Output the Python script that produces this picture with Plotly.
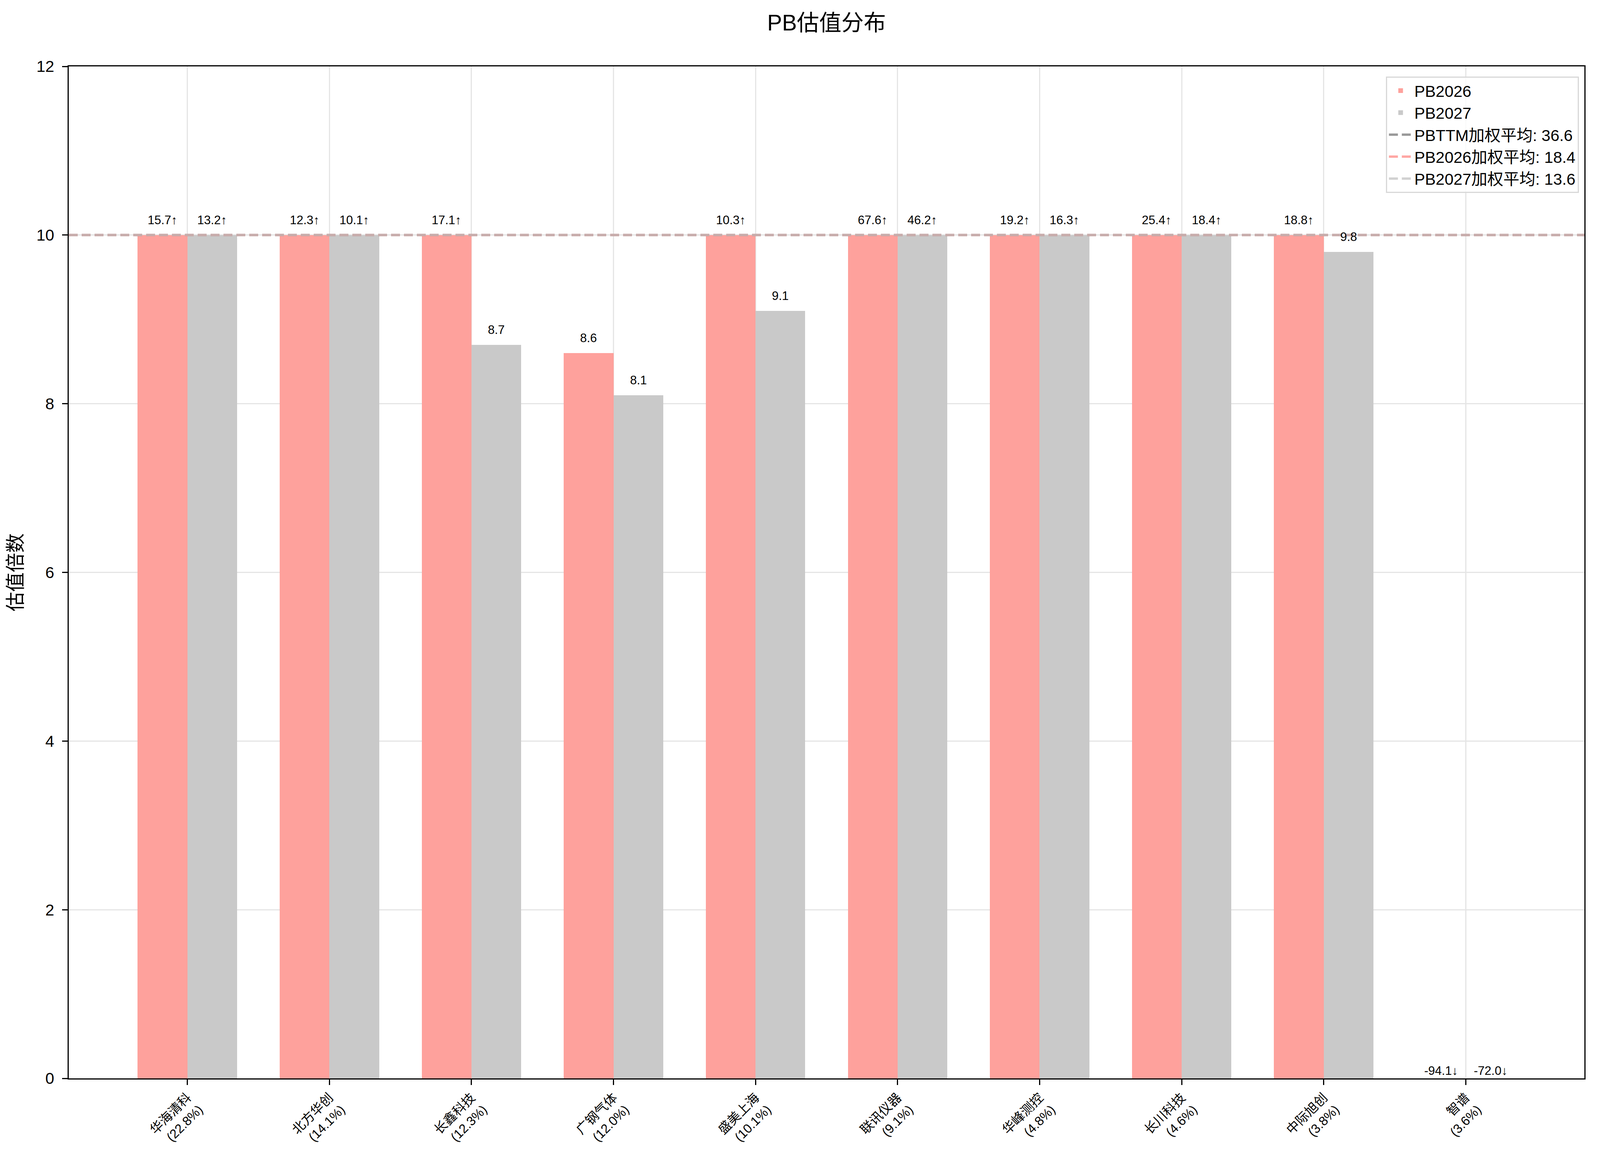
import plotly.graph_objects as go

# data
companies = ["华海清科", "北方华创", "长鑫科技", "广钢气体", "盛美上海",
             "联讯仪器", "华峰测控", "长川科技", "中际旭创", "智谱"]
weights = [22.8, 14.1, 12.3, 12.0, 10.1, 9.1, 4.8, 4.6, 3.8, 3.6]
pb2026 = [15.7, 12.3, 17.1, 8.6, 10.3, 67.6, 19.2, 25.4, 18.8, -94.1]
pb2027 = [13.2, 10.1, 8.7, 8.1, 9.1, 46.2, 16.3, 18.4, 9.8, -72.0]
avg_pbttm = 36.6
avg_pb2026 = 18.4
avg_pb2027 = 13.6

Y_CAP = 10
Y_MAX = 12
BAR_W = 0.35

RED = "rgb(254,161,156)"
GRAY = "rgb(201,201,201)"
FONT = "Liberation Sans, Arial, Noto Sans CJK SC, sans-serif"


def clip(v):
    return min(max(v, 0), Y_CAP)


def label(v):
    if v > Y_CAP:
        return f"{v:.1f}↑"
    if v < 0:
        return f"{v:.1f}↓"
    return f"{v:.1f}"


n = len(companies)
idx = list(range(n))
ticktext = [f"{c}<br>({w:.1f}%)" for c, w in zip(companies, weights)]

# matplotlib-like x limits: 5% margin around the bars
span = (n - 1 + BAR_W) - (-BAR_W)
x_lo = -BAR_W - 0.05 * span
x_hi = (n - 1 + BAR_W) + 0.05 * span

fig = go.Figure()
series = [("PB2026", pb2026, RED, -BAR_W / 2), ("PB2027", pb2027, GRAY, BAR_W / 2)]
for name, vals, color, off in series:
    fig.add_trace(go.Bar(
        x=[i + off for i in idx],
        y=[clip(v) for v in vals],
        width=BAR_W,
        name=name,
        marker=dict(color=color, line=dict(width=0)),
    ))

# weighted averages, all clipped to the cap so they overlap at y=10
avg_lines = [
    (f"PBTTM加权平均: {avg_pbttm}", avg_pbttm, "rgba(128,128,128,0.8)"),
    (f"PB2026加权平均: {avg_pb2026}", avg_pb2026, "rgba(255,130,125,0.7)"),
    (f"PB2027加权平均: {avg_pb2027}", avg_pb2027, "rgba(190,190,190,0.7)"),
]
for name, val, color in avg_lines:
    fig.add_trace(go.Scatter(
        x=[x_lo, x_hi],
        y=[clip(val), clip(val)],
        mode="lines",
        name=name,
        line=dict(color=color, width=6, dash="23px,10px"),
        hoverinfo="skip",
    ))

# value labels above bars
annotations = []
for name, vals, color, off in series:
    for i, v in zip(idx, vals):
        annotations.append(dict(
            x=i + off, y=clip(v), text=label(v),
            showarrow=False, yanchor="bottom", xanchor="center",
            yshift=19 if v >= 0 else 0,
            font=dict(family=FONT, size=31, color="black"),
        ))

fig.update_layout(
    autosize=True,
    paper_bgcolor="white",
    plot_bgcolor="white",
    font=dict(family=FONT, size=41, color="black"),
    title=dict(
        text="PB估值分布",
        x=0.5, xref="paper", xanchor="center",
        y=0.983, yref="container", yanchor="middle",
        font=dict(size=57),
    ),
    margin=dict(l=168, r=32, t=162, b=201),
    showlegend=True,
    legend=dict(
        x=0.9963, y=0.99, xanchor="right", yanchor="top",
        bgcolor="rgba(255,255,255,0.8)",
        bordercolor="rgb(216,216,216)", borderwidth=3,
        font=dict(size=41),
        itemwidth=60,
    ),
    annotations=annotations,
    bargap=0,
)

fig.update_xaxes(
    range=[x_lo, x_hi],
    tickmode="array", tickvals=idx, ticktext=ticktext,
    tickangle=-45,
    tickfont=dict(size=33),
    showgrid=True, gridcolor="rgb(229,229,229)", gridwidth=3,
    showline=True, linecolor="black", linewidth=3, mirror=True,
    ticks="outside", ticklen=14, tickwidth=3, tickcolor="black",
    zeroline=False,
)
fig.update_yaxes(
    range=[0, Y_MAX], dtick=2,
    title=dict(text="估值倍数", font=dict(size=50), standoff=20),
    showgrid=True, gridcolor="rgb(229,229,229)", gridwidth=3,
    showline=True, linecolor="black", linewidth=3, mirror=True,
    ticks="outside", ticklen=14, tickwidth=3, tickcolor="black",
    ticklabelstandoff=12,
    zeroline=False,
)

fig.write_html("out.html")
